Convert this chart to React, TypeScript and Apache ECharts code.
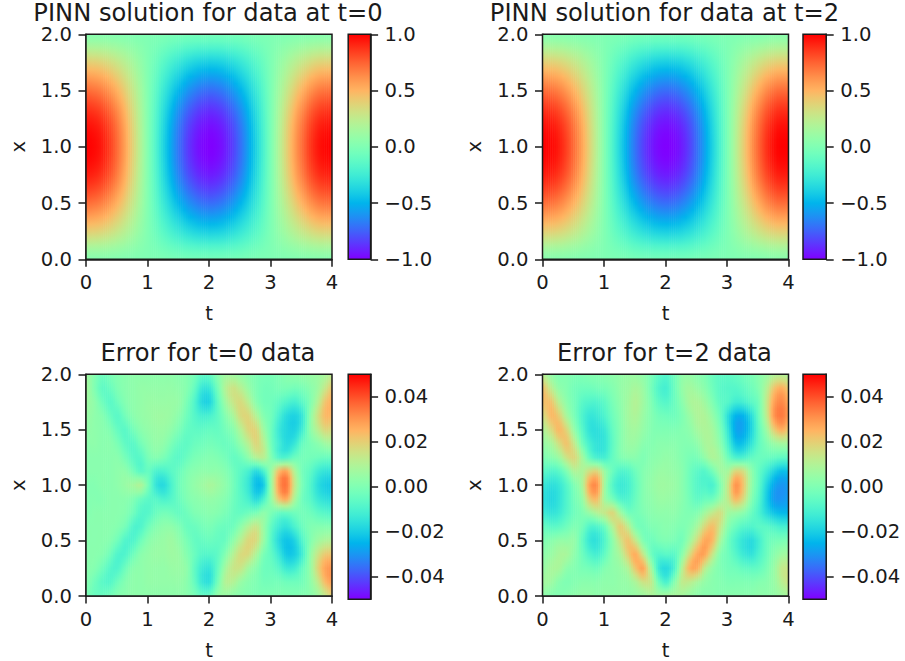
import React, { useEffect, useRef } from "react";
import * as echarts from "echarts";

const titles = ["PINN solution for data at t=0", "PINN solution for data at t=2", "Error for t=0 data", "Error for t=2 data"];
const solutionTicks = [-1, -0.5, 0, 0.5, 1];
const errorTicks = [-0.04, -0.02, 0, 0.02, 0.04];

// Rows run from x=2 (top) to x=0 (bottom); columns from t=0 to t=4.
const solutionT0 = [
  [.03,.03,.02,.01,0,-.01,-.03,-.04,-.04,-.04,-.03,-.01,0,.01,.02,.03,.03],
  [.40,.37,.28,.15,0,-.15,-.28,-.37,-.40,-.37,-.28,-.15,0,.15,.28,.37,.39],
  [.72,.66,.50,.27,0,-.27,-.50,-.66,-.72,-.66,-.50,-.27,0,.27,.51,.67,.71],
  [.93,.86,.66,.35,0,-.35,-.66,-.86,-.93,-.86,-.66,-.35,0,.36,.67,.87,.92],
  [1,.93,.71,.38,0,-.38,-.71,-.93,-1,-.93,-.71,-.38,0,.39,.72,.94,1],
  [.93,.86,.66,.35,0,-.35,-.66,-.86,-.93,-.86,-.66,-.35,0,.36,.67,.87,.92],
  [.72,.66,.50,.27,0,-.27,-.50,-.66,-.72,-.66,-.50,-.27,0,.27,.51,.67,.71],
  [.40,.37,.28,.15,0,-.15,-.28,-.37,-.40,-.37,-.28,-.15,0,.15,.28,.37,.39],
  [.03,.03,.02,.01,0,-.01,-.03,-.04,-.04,-.04,-.03,-.01,0,.01,.02,.03,.03],
];
const solutionT2 = [
  [.03,.03,.02,.01,0,-.01,-.03,-.04,-.04,-.04,-.03,-.01,0,.01,.02,.04,.04],
  [.40,.37,.28,.15,0,-.15,-.28,-.37,-.40,-.37,-.28,-.15,0,.16,.30,.39,.40],
  [.72,.66,.50,.27,0,-.27,-.50,-.66,-.72,-.66,-.50,-.27,0,.28,.53,.70,.72],
  [.93,.86,.66,.35,0,-.35,-.66,-.86,-.93,-.86,-.66,-.35,0,.37,.69,.90,.93],
  [1,.93,.71,.38,0,-.38,-.71,-.93,-1,-.93,-.71,-.38,0,.40,.74,.97,1],
  [.93,.86,.66,.35,0,-.35,-.66,-.86,-.93,-.86,-.66,-.35,0,.37,.69,.90,.93],
  [.72,.66,.50,.27,0,-.27,-.50,-.66,-.72,-.66,-.50,-.27,0,.28,.53,.70,.72],
  [.40,.37,.28,.15,0,-.15,-.28,-.37,-.40,-.37,-.28,-.15,0,.16,.30,.39,.40],
  [.03,.03,.02,.01,0,-.01,-.03,-.04,-.04,-.04,-.03,-.01,0,.01,.02,.04,.04],
];
// Error panels, in thousandths.
const errorT0 = [
  [6,1,-3,-1,1,2,3,3,3,3,3,3,2,1,-2,-6,-5,2,6,6,4,2,0,-1,-1,0,2,3,4,5,6,8,12],
  [7,0,-6,-4,0,2,3,4,4,4,4,4,3,1,-5,-14,-13,-2,10,15,11,5,0,-2,-2,-1,-1,-2,-1,2,6,14,22],
  [6,3,-3,-7,-3,1,3,4,5,5,5,5,4,-1,-9,-18,-18,-6,6,14,17,11,2,-2,-3,-6,-9,-11,-7,0,10,22,26],
  [5,3,1,-4,-7,-2,2,4,5,6,6,5,2,-3,-8,-11,-10,-6,1,8,17,18,10,1,-3,-11,-17,-19,-14,2,15,24,24],
  [4,3,2,0,-5,-7,-2,2,4,5,5,3,-1,-5,-6,-6,-5,-5,-2,2,10,18,18,6,-4,-14,-18,-19,-12,2,11,18,17],
  [3,3,2,2,-1,-6,-7,-2,2,4,3,-1,-5,-6,-4,-3,-2,-3,-4,-2,4,11,18,11,-3,-12,-17,-14,-5,-1,2,6,8],
  [2,2,2,2,2,-2,-7,-7,-1,1,-1,-5,-7,-4,-1,0,1,0,-2,-5,-3,3,10,11,0,-9,-9,-4,-2,-2,-3,-4,-4],
  [2,2,2,2,3,3,-2,-7,-5,-10,-10,-7,-4,0,2,3,3,3,1,-3,-7,-11,-17,-10,6,24,27,10,-2,-6,-12,-15,-15],
  [1,1,2,2,3,5,7,9,-2,-15,-17,-10,-3,1,4,6,8,6,3,-2,-8,-14,-23,-20,6,30,34,14,-1,-8,-16,-20,-21],
  [1,1,1,2,2,2,0,-4,-7,-8,-10,-8,-4,0,2,3,4,3,1,-3,-7,-11,-17,-10,5,22,26,9,-3,-7,-13,-16,-17],
  [1,2,2,2,2,1,-3,-8,-8,-4,-2,-3,-5,-3,0,1,2,1,-1,-4,-5,-3,-1,3,-1,-5,-5,-3,-2,-3,-6,-8,-9],
  [2,2,2,2,1,-2,-9,-9,-3,1,3,3,0,-4,-4,-2,-1,-3,-4,-3,3,10,14,5,-6,-13,-15,-10,-4,0,1,1,1],
  [2,2,2,1,-3,-9,-9,-3,2,4,5,6,3,-1,-5,-5,-4,-5,-4,3,11,18,17,5,-8,-18,-22,-19,-9,0,6,9,10],
  [2,2,1,-3,-9,-9,-3,2,4,5,5,6,5,1,-4,-8,-8,-6,1,10,17,17,9,-1,-6,-14,-21,-20,-12,3,14,21,22],
  [2,1,-3,-8,-9,-3,2,3,4,4,4,5,5,3,-6,-13,-14,-5,7,14,14,7,2,-3,-4,-8,-13,-12,-5,4,18,28,30],
  [1,-3,-7,-8,-3,1,3,3,4,4,4,4,4,2,-5,-14,-15,-2,10,10,5,2,0,-2,-2,-2,-3,-3,-2,3,12,24,29],
  [-1,-4,-4,-2,1,2,3,3,3,3,3,3,3,2,-1,-5,-4,4,5,3,2,1,0,0,0,0,0,0,1,2,6,13,20],
];
const errorT2 = [
  [10,4,1,1,0,0,1,1,2,3,4,5,5,3,-1,-6,-8,-3,3,4,2,0,-4,-6,-6,-5,-3,-1,2,5,9,10,9],
  [22,12,4,1,-2,-3,-3,-2,-1,1,4,6,8,5,-2,-9,-11,-4,4,7,5,2,-3,-7,-8,-8,-6,-3,1,10,22,26,20],
  [23,22,11,3,-2,-7,-9,-9,-6,-1,3,7,10,6,0,-6,-8,-4,2,8,9,6,0,-6,-8,-12,-11,-7,-2,13,28,32,26],
  [17,24,20,8,-1,-9,-14,-13,-9,-3,2,7,9,5,1,-2,-3,-3,0,5,9,9,4,-4,-16,-25,-25,-17,-4,12,30,34,28],
  [10,17,24,18,4,-7,-15,-16,-13,-5,1,6,7,4,1,0,0,0,1,3,7,9,7,-1,-14,-27,-27,-19,-6,6,20,26,20],
  [5,8,16,22,13,-2,-11,-15,-14,-6,1,5,5,2,1,2,2,2,1,1,3,8,8,2,-10,-22,-22,-15,-6,0,5,7,7],
  [0,2,6,15,18,8,-5,-11,-11,-5,0,2,2,0,2,3,4,3,1,-1,-1,4,9,6,-3,-10,-10,-6,-4,-4,-5,-6,-6],
  [-7,-9,-7,0,9,9,16,18,5,-4,-9,-8,-3,1,3,5,5,4,2,-3,-7,-8,-2,6,8,18,16,4,-5,-12,-19,-23,-22],
  [-14,-16,-14,-8,0,8,28,30,6,-8,-13,-11,-5,1,4,6,6,5,2,-3,-8,-9,-10,0,14,30,22,5,-6,-18,-27,-30,-28],
  [-16,-18,-15,-9,-2,4,20,23,6,-2,-9,-9,-4,1,3,5,5,4,2,-2,-6,-4,-3,4,13,24,17,2,-8,-20,-29,-30,-28],
  [-13,-15,-13,-8,-3,0,5,10,14,18,7,-2,-2,0,2,3,3,3,1,0,1,7,13,16,7,5,2,-4,-10,-17,-22,-24,-24],
  [-5,-7,-6,-3,0,-2,-9,-9,-3,10,20,12,0,-2,0,1,2,1,0,2,8,18,23,14,2,-4,-8,-9,-7,-7,-9,-11,-11],
  [0,2,4,4,4,-5,-14,-15,-8,3,15,22,13,0,-3,-1,0,-1,-2,6,17,27,24,8,-3,-10,-15,-17,-12,-5,-2,-1,0],
  [3,5,8,8,3,-3,-9,-11,-5,3,9,20,26,13,-3,-8,-7,-7,2,16,27,27,14,1,-3,-8,-13,-15,-10,-4,2,6,7],
  [5,8,8,3,1,-1,-2,-3,1,3,5,10,22,27,8,-13,-17,-10,10,25,26,12,4,0,-2,-3,-5,-6,-5,-1,5,13,14],
  [7,6,2,0,1,2,2,2,3,3,4,5,9,15,13,-3,-10,1,12,12,8,4,2,1,0,0,0,0,1,2,5,11,15],
  [3,1,1,2,3,4,4,3,4,4,4,4,5,6,8,7,8,8,7,5,3,2,2,1,2,2,2,2,3,3,4,6,8],
];

const FONT = "DejaVu Sans";
const TICK_SIZE = 19.6;
const TITLE_SIZE = 24.2;
const INK = "#1a1a1a";
const LINE = 1.5;

// matplotlib's "rainbow" colour map, v in 0..1
function rainbow(v: number) {
  const c = Math.min(1, Math.max(0, v));
  const r = Math.min(1, Math.abs(2 * c - 0.5));
  const g = Math.sin(Math.PI * c);
  const b = Math.cos((Math.PI * c) / 2);
  return `rgb(${Math.round(r * 255)},${Math.round(g * 255)},${Math.round(b * 255)})`;
}

// Smooth shading between neighbouring samples, as a smooth image shader would do.
function shade(a: number, b: number, c: number, d: number, u: number) {
  return b + 0.5 * u * (c - a + u * (2 * a - 5 * b + 4 * c - d + u * (3 * (b - c) + d - a)));
}

function sampleColumn(rows: number[][], col: number, u: number) {
  const n = rows[0].length - 1;
  const at = (r: number[], i: number) => r[Math.max(0, Math.min(n, i))];
  return rows.map((r) => shade(at(r, col - 1), at(r, col), at(r, col + 1), at(r, col + 2), u));
}

function columnStops(values: number[], vmin: number, vmax: number, subdivide: number) {
  const m = values.length - 1;
  const at = (i: number) => values[Math.max(0, Math.min(m, i))];
  const stops: { offset: number; color: string }[] = [];
  for (let i = 0; i < m; i++) {
    for (let k = 0; k < subdivide; k++) {
      const u = k / subdivide;
      const v = shade(at(i - 1), at(i), at(i + 1), at(i + 2), u);
      stops.push({ offset: (i + u) / m, color: rainbow((v - vmin) / (vmax - vmin)) });
    }
  }
  stops.push({ offset: 1, color: rainbow((values[m] - vmin) / (vmax - vmin)) });
  return stops;
}

const frameItem = (params: any, api: any) => {
  const a = api.coord([api.value(0), api.value(3)]);
  const b = api.coord([api.value(1), api.value(2)]);
  return {
    type: "rect",
    shape: { x: a[0], y: a[1], width: b[0] - a[0], height: b[1] - a[1] },
    style: { fill: "none", stroke: INK, lineWidth: LINE },
  };
};

function buildPanel(idx: number, rows: number[][], vmin: number, vmax: number, left: number, top: number, cbLeft: number, cw: number, cbTicks: number[], cbDigits: number) {
  const W = 246, H = 225;
  const g = idx * 2;
  const subdivide = rows.length > 10 ? 2 : 4;
  const nCols = rows[0].length - 1;
  const tStep = 4 / nCols;
  const cols = Array.from({ length: nCols }, (_, i) => [i * tStep, (i + 1) * tStep, i]);
  const fmt = (v: number, d: number) => v.toFixed(d).replace("-", "\u2212");
  const axisCommon = {
    axisLine: { show: true, onZero: false, lineStyle: { color: INK, width: LINE } },
    axisTick: { show: true, length: 7.5, lineStyle: { color: INK, width: LINE } },
    splitLine: { show: false },
  };
  const labelCommon = { color: INK, fontFamily: FONT, fontSize: TICK_SIZE, margin: 14, lineHeight: 15, padding: [2, 0, 0, 0] };
  const nameStyle = { color: INK, fontFamily: FONT, fontSize: TICK_SIZE };
  return {
    grid: [
      { left, top, width: W, height: H },
      { left: cbLeft, top, width: cw, height: H },
    ],
    xAxis: [
      {
        gridIndex: g, type: "value", min: 0, max: 4, interval: 1, name: "t", nameLocation: "middle", nameGap: 44,
        nameTextStyle: nameStyle, ...axisCommon,
        axisLabel: { ...labelCommon, formatter: (v: number) => String(v) },
      },
      { gridIndex: g + 1, type: "value", min: 0, max: 1, show: false },
    ],
    yAxis: [
      {
        gridIndex: g, type: "value", min: 0, max: 2, interval: 0.5, name: "x", nameLocation: "middle", nameGap: 58,
        nameTextStyle: nameStyle, ...axisCommon,
        axisLabel: { ...labelCommon, formatter: (v: number) => v.toFixed(1) },
      },
      {
        gridIndex: g + 1, type: "value", min: vmin, max: vmax, position: "right", ...axisCommon,
        axisTick: { ...axisCommon.axisTick, customValues: cbTicks },
        axisLabel: { ...labelCommon, customValues: cbTicks, formatter: (v: number) => fmt(v, cbDigits) },
      },
    ],
    series: [
      {
        type: "custom", xAxisIndex: g, yAxisIndex: g, clip: true, silent: true, z: 1,
        data: cols,
        encode: { x: [0, 1] },
        renderItem: (params: any, api: any) => {
          const col = api.value(2);
          const a = api.coord([api.value(0), 2]);
          const b = api.coord([api.value(1), 0]);
          const strips = Math.max(1, Math.ceil((b[0] - a[0]) / 2));
          const w = (b[0] - a[0]) / strips;
          const children = [];
          for (let k = 0; k < strips; k++) {
            const values = sampleColumn(rows, col, k / strips);
            children.push({
              type: "rect",
              shape: { x: a[0] + k * w, y: a[1], width: w + 0.6, height: b[1] - a[1] },
              style: { fill: new echarts.graphic.LinearGradient(0, 0, 0, 1, columnStops(values, vmin, vmax, subdivide)) },
            });
          }
          return { type: "group", children };
        },
      },
      {
        type: "custom", xAxisIndex: g, yAxisIndex: g, clip: false, silent: true, z: 5,
        data: [[0, 4, 0, 2]], renderItem: frameItem,
      },
      {
        type: "custom", xAxisIndex: g + 1, yAxisIndex: g + 1, silent: true, z: 1,
        data: [[0, 1, vmin, vmax]],
        renderItem: (params: any, api: any) => {
          const a = api.coord([api.value(0), api.value(3)]);
          const b = api.coord([api.value(1), api.value(2)]);
          const stops = Array.from({ length: 33 }, (_, i) => ({ offset: i / 32, color: rainbow(1 - i / 32) }));
          return {
            type: "rect",
            shape: { x: a[0], y: a[1], width: b[0] - a[0], height: b[1] - a[1] },
            style: { fill: new echarts.graphic.LinearGradient(0, 0, 0, 1, stops) },
          };
        },
      },
      {
        type: "custom", xAxisIndex: g + 1, yAxisIndex: g + 1, clip: false, silent: true, z: 5,
        data: [[0, 1, vmin, vmax]], renderItem: frameItem,
      },
    ],
    title: {
      text: titles[idx], left: left + W / 2 - 1, top: top - 31.3, textAlign: "center", padding: 0,
      textStyle: { fontFamily: FONT, fontWeight: "normal", fontSize: TITLE_SIZE, lineHeight: 20, color: INK },
    },
  };
}

export default function App() {
  const ref = useRef<HTMLDivElement>(null);
  useEffect(() => {
    document.body.style.margin = "0";
    const chart = echarts.init(ref.current!, undefined, { renderer: "svg" });
    const errScale = (m: number[][]) => m.map((r) => r.map((v) => v / 1000));
    const panels = [
      buildPanel(0, solutionT0, -1, 1, 86, 34.3, 348.2, 22.4, solutionTicks, 1),
      buildPanel(1, solutionT2, -1, 1, 542.5, 34.3, 803, 23.2, solutionTicks, 1),
      buildPanel(2, errScale(errorT0), -0.05, 0.05, 86, 374.3, 348.2, 22.4, errorTicks, 2),
      buildPanel(3, errScale(errorT2), -0.05, 0.05, 542.5, 374.3, 803, 23.2, errorTicks, 2),
    ];
    chart.setOption({
      animation: false,
      backgroundColor: "#fff",
      title: panels.map((p) => p.title),
      grid: panels.flatMap((p) => p.grid),
      xAxis: panels.flatMap((p) => p.xAxis),
      yAxis: panels.flatMap((p) => p.yAxis),
      series: panels.flatMap((p) => p.series),
    });
    return () => chart.dispose();
  }, []);
  return <div ref={ref} style={{ width: 905, height: 661 }} />;
}
